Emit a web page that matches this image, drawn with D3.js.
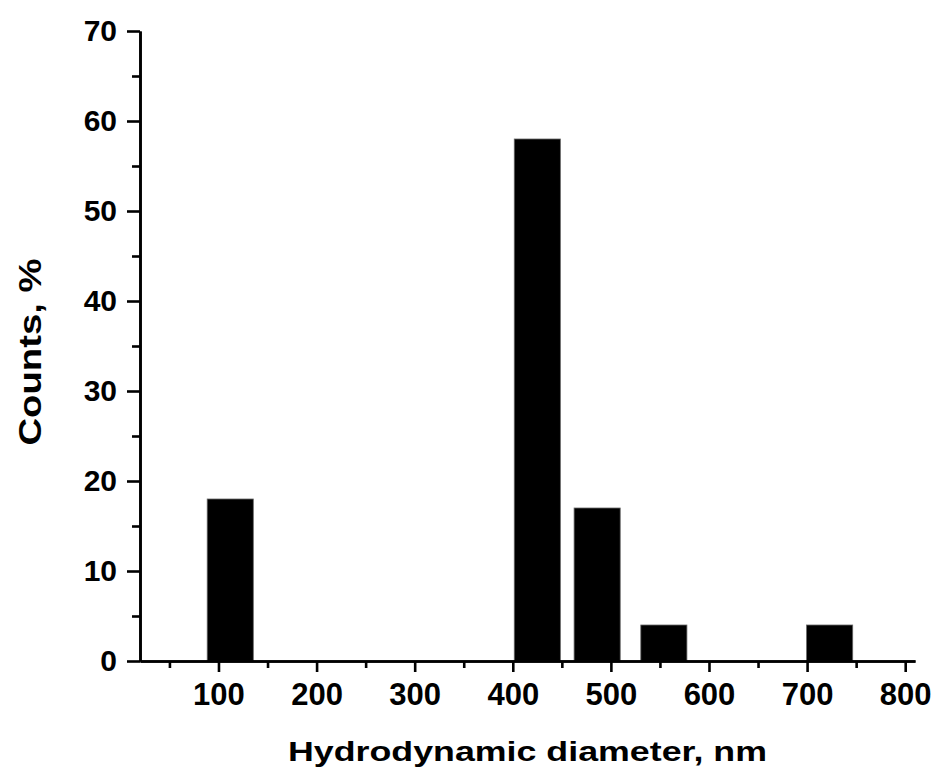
<!DOCTYPE html>
<html>
<head>
<meta charset="utf-8">
<script src="https://cdn.jsdelivr.net/npm/d3@7"></script>
<style>
  html, body { margin: 0; padding: 0; background: #fff; }
  svg { display: block; }
  text { font-family: "Liberation Sans", Arial, Helvetica, sans-serif; font-weight: bold; fill: #000; }
</style>
</head>
<body>
<svg id="chart" width="936" height="774"></svg>
<script>
// Size distribution (DLS), percentage of counts per bin
const binCenters = [112, 425, 486, 554, 723];   // nm
const counts = [18, 58, 17, 4, 4];              // %
const binWidth = 47;                             // nm, drawn bar width
const xTicks = [100, 200, 300, 400, 500, 600, 700, 800];
const xMinorTicks = [50, 150, 250, 350, 450, 550, 650, 750];
const yTicks = [0, 10, 20, 30, 40, 50, 60, 70];
const yMinorTicks = [5, 15, 25, 35, 45, 55, 65];

const svg = d3.select("#chart");
const plotLeft = 140, plotRight = 915, plotTop = 31, plotBottom = 661;

const x = d3.scaleLinear().domain([20, 810]).range([plotLeft, plotRight]);
const y = d3.scaleLinear().domain([0, 70]).range([plotBottom, plotTop]);

// bars
svg.append("g").selectAll("rect")
  .data(binCenters.map((c, i) => ({ c, v: counts[i] })))
  .join("rect")
  .attr("x", d => x(d.c - binWidth / 2))
  .attr("width", d => x(d.c + binWidth / 2) - x(d.c - binWidth / 2))
  .attr("y", d => y(d.v))
  .attr("height", d => y(0) - y(d.v))
  .attr("fill", "#000")
  .attr("stroke", "#666")
  .attr("stroke-width", 0.8);

// x axis
const xAxis = svg.append("g").attr("transform", `translate(0,${plotBottom})`)
  .call(d3.axisBottom(x).tickValues(xTicks).tickSize(11).tickPadding(11).tickSizeOuter(0));
const xMinor = svg.append("g").attr("transform", `translate(0,${plotBottom})`)
  .call(d3.axisBottom(x).tickValues(xMinorTicks).tickSize(7).tickFormat("").tickSizeOuter(0));

// y axis
const yAxis = svg.append("g").attr("transform", `translate(${plotLeft},0)`)
  .call(d3.axisLeft(y).tickValues(yTicks).tickSize(13).tickPadding(10).tickSizeOuter(0));
const yMinor = svg.append("g").attr("transform", `translate(${plotLeft},0)`)
  .call(d3.axisLeft(y).tickValues(yMinorTicks).tickSize(8).tickFormat("").tickSizeOuter(0));

[xAxis, xMinor, yAxis, yMinor].forEach(g => {
  g.select(".domain").attr("stroke", "#000").attr("stroke-width", 2.6);
  g.selectAll(".tick line").attr("stroke", "#000").attr("stroke-width", 2.6);
});
xAxis.selectAll(".tick text").attr("font-size", 31).attr("font-family", null).attr("fill", "#000");
yAxis.selectAll(".tick text").attr("font-size", 30).attr("font-family", null).attr("fill", "#000");

// axis titles (wide lettering)
svg.append("text")
  .attr("x", 527.5).attr("y", 761)
  .attr("text-anchor", "middle")
  .attr("font-size", 27)
  .attr("textLength", 479)
  .attr("lengthAdjust", "spacingAndGlyphs")
  .text("Hydrodynamic diameter, nm");

svg.append("text")
  .attr("transform", "translate(41,352) rotate(-90)")
  .attr("text-anchor", "middle")
  .attr("font-size", 32)
  .attr("textLength", 187)
  .attr("lengthAdjust", "spacingAndGlyphs")
  .text("Counts, %");
</script>
</body>
</html>
